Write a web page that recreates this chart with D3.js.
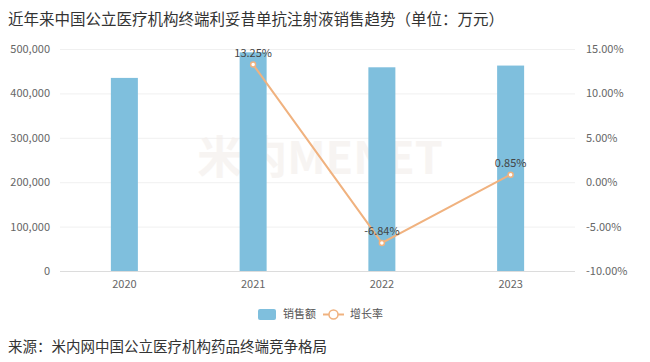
<!DOCTYPE html>
<html>
<head>
<meta charset="utf-8">
<script src="https://cdn.jsdelivr.net/npm/d3@7"></script>
<style>
  body { margin: 0; background: #fff; }
  text { font-family: "Noto Sans CJK SC", "Noto Sans", sans-serif; }
</style>
</head>
<body>
<div id="chart"></div>
<script>
// data
var years = ["2020", "2021", "2022", "2023"];
var sales = [434900, 492500, 458800, 462700];   // 万元
var growth = [null, 13.25, -6.84, 0.85];        // %
var leftTicks = [0, 100000, 200000, 300000, 400000, 500000];
var rightTicks = [-10, -5, 0, 5, 10, 15];

var width = 650, height = 362;
// plot area (note: "top" is a reserved window property, so use other names)
var plotL = 60, plotR = 575, plotT = 49, plotB = 271;

var svg = d3.select("#chart").append("svg")
    .attr("width", width)
    .attr("height", height);

// title
svg.append("text")
    .attr("x", 8).attr("y", 25)
    .attr("font-size", "15.5px").attr("fill", "#333")
    .text("近年来中国公立医疗机构终端利妥昔单抗注射液销售趋势（单位：万元）");

var x = d3.scaleBand().domain(years).range([plotL, plotR]);
var yL = d3.scaleLinear().domain([0, 500000]).range([plotB, plotT]);
var yR = d3.scaleLinear().domain([-10, 15]).range([plotB, plotT]);

// grid lines
svg.selectAll(".grid").data(leftTicks).enter().append("line")
    .attr("x1", plotL).attr("x2", plotR)
    .attr("y1", function (d) { return yL(d) + 0.5; })
    .attr("y2", function (d) { return yL(d) + 0.5; })
    .attr("stroke", function (d) { return d === 0 ? "#dcdcdc" : "#f0f0f0"; })
    .attr("stroke-width", 1);

// watermark
svg.append("text")
    .attr("x", 320).attr("y", 174)
    .attr("text-anchor", "middle")
    .attr("font-size", "45px").attr("font-weight", "bold")
    .attr("fill", "#f3eeea").attr("opacity", 0.6)
    .text("米内MENET");

// left axis
var axL = svg.append("g").attr("transform", "translate(" + (plotL - 7) + ",0)")
    .call(d3.axisLeft(yL).tickValues(leftTicks).tickFormat(d3.format(",")).tickSize(0));
axL.select(".domain").remove();
axL.selectAll("text").attr("font-size", "11px").attr("fill", "#666")
    .style("font-family", "'Noto Sans CJK SC', sans-serif");

// right axis
var axR = svg.append("g").attr("transform", "translate(" + (plotR + 8) + ",0)")
    .call(d3.axisRight(yR).tickValues(rightTicks).tickFormat(function (d) { return d.toFixed(2) + "%"; }).tickSize(0));
axR.select(".domain").remove();
axR.selectAll("text").attr("font-size", "11px").attr("fill", "#666")
    .style("font-family", "'Noto Sans CJK SC', sans-serif");

// bottom axis labels
var axB = svg.append("g").attr("transform", "translate(0," + (plotB + 6) + ")")
    .call(d3.axisBottom(x).tickSize(0));
axB.select(".domain").remove();
axB.selectAll("text").attr("font-size", "11px").attr("fill", "#666")
    .style("font-family", "'Noto Sans CJK SC', sans-serif");

// bars
var barW = 27;
svg.selectAll(".bar").data(sales).enter().append("rect")
    .attr("x", function (d, i) { return x(years[i]) + x.bandwidth() / 2 - barW / 2; })
    .attr("y", function (d) { return yL(d); })
    .attr("width", barW)
    .attr("height", function (d) { return plotB - yL(d); })
    .attr("fill", "#7fbfdd");

// growth line
var pts = growth.map(function (g, i) { return { year: years[i], v: g }; })
    .filter(function (d) { return d.v !== null; });
var line = d3.line()
    .x(function (d) { return x(d.year) + x.bandwidth() / 2; })
    .y(function (d) { return yR(d.v); });
svg.append("path").datum(pts)
    .attr("d", line)
    .attr("fill", "none")
    .attr("stroke", "#f0b27f")
    .attr("stroke-width", 2);

svg.selectAll(".pt").data(pts).enter().append("circle")
    .attr("cx", function (d) { return x(d.year) + x.bandwidth() / 2; })
    .attr("cy", function (d) { return yR(d.v); })
    .attr("r", 2.5)
    .attr("fill", "#fff")
    .attr("stroke", "#f0b27f")
    .attr("stroke-width", 1.5);

svg.selectAll(".lbl").data(pts).enter().append("text")
    .attr("x", function (d) { return x(d.year) + x.bandwidth() / 2; })
    .attr("y", function (d) { return yR(d.v) - 8; })
    .attr("text-anchor", "middle")
    .attr("font-size", "11px").attr("fill", "#444")
    .text(function (d) { return d.v.toFixed(2) + "%"; });

// legend
var lg = svg.append("g").attr("transform", "translate(0,314)");
lg.append("rect").attr("x", 258).attr("y", -5).attr("width", 18).attr("height", 11)
    .attr("rx", 2).attr("fill", "#7fbfdd");
lg.append("text").attr("x", 283).attr("y", 4).attr("font-size", "11px").attr("fill", "#555").text("销售额");
lg.append("line").attr("x1", 323).attr("x2", 344).attr("y1", 0.5).attr("y2", 0.5)
    .attr("stroke", "#f0b27f").attr("stroke-width", 2);
lg.append("circle").attr("cx", 333.5).attr("cy", 0.5).attr("r", 4.5)
    .attr("fill", "#fff").attr("stroke", "#f0b27f").attr("stroke-width", 1.5);
lg.append("text").attr("x", 350).attr("y", 4).attr("font-size", "11px").attr("fill", "#555").text("增长率");

// source
svg.append("text")
    .attr("x", 8).attr("y", 352)
    .attr("font-size", "14.5px").attr("fill", "#333")
    .text("来源：米内网中国公立医疗机构药品终端竞争格局");
</script>
</body>
</html>
